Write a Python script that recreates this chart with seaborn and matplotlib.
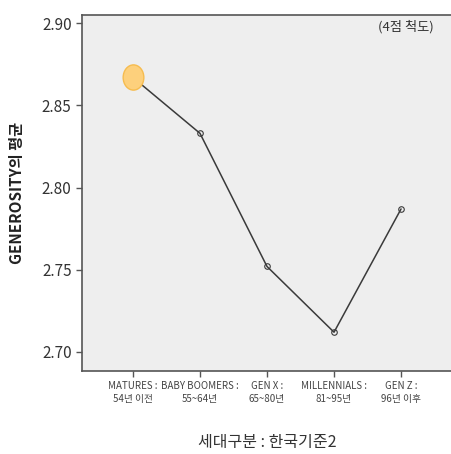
import pandas as pd
import seaborn as sns
import matplotlib.pyplot as plt
from matplotlib.markers import MarkerStyle
from matplotlib.transforms import Affine2D

groups = ['MATURES :\n54년 이전', 'BABY BOOMERS :\n55~64년', 'GEN X :\n65~80년',
          'MILLENNIALS :\n81~95년', 'GEN Z :\n96년 이후']
means = [2.867, 2.833, 2.752, 2.712, 2.787]
yticks = [2.70, 2.75, 2.80, 2.85, 2.90]

df = pd.DataFrame({'x': range(len(groups)), 'mean': means})

sns.set_style('ticks')
plt.rcParams['font.family'] = ['Noto Sans CJK KR', 'DejaVu Sans']

fig = plt.figure(figsize=(4.52, 4.54), dpi=100)
ax = fig.add_axes([0.1814, 0.1828, 0.8186, 0.7842])
ax.set_facecolor('#eeeeee')

sns.lineplot(data=df, x='x', y='mean', ax=ax, color='#3a3a3a', linewidth=1.1,
             marker='o', markersize=4, markerfacecolor='none',
             markeredgecolor='#3a3a3a', markeredgewidth=0.8)

# highlighted first group
oval = MarkerStyle('o', transform=Affine2D().scale(0.82, 1.0))
sns.scatterplot(data=df.iloc[:1], x='x', y='mean', ax=ax, marker=oval, s=330,
                color='#fdd07c', edgecolor='#f6bc4f', linewidth=1, zorder=5)

ax.set_xlim(-0.76, 4.76)
ax.set_ylim(2.6884, 2.905)
ax.set_yticks(yticks)
ax.set_yticklabels([f'{v:.2f}' for v in yticks], fontsize=11, color='#333333')
ax.set_xticks(range(len(groups)))
ax.set_xticklabels(groups, fontsize=7, color='#444444', linespacing=1.3)
ax.tick_params(axis='both', color='#555555', length=4, width=1)

for s in ax.spines.values():
    s.set_color('#555555')
    s.set_linewidth(1.2)

ax.set_xlabel('세대구분 : 한국기준2', fontsize=11.5, color='#333333', labelpad=22)
ax.set_ylabel('GENEROSITY의 평균', fontsize=11, fontweight='bold', color='#222222', labelpad=12)

ax.text(0.95, 0.985, '(4점 척도)', transform=ax.transAxes, ha='right', va='top',
        fontsize=9.5, color='#333333')

fig.savefig('out.png', dpi=100)
